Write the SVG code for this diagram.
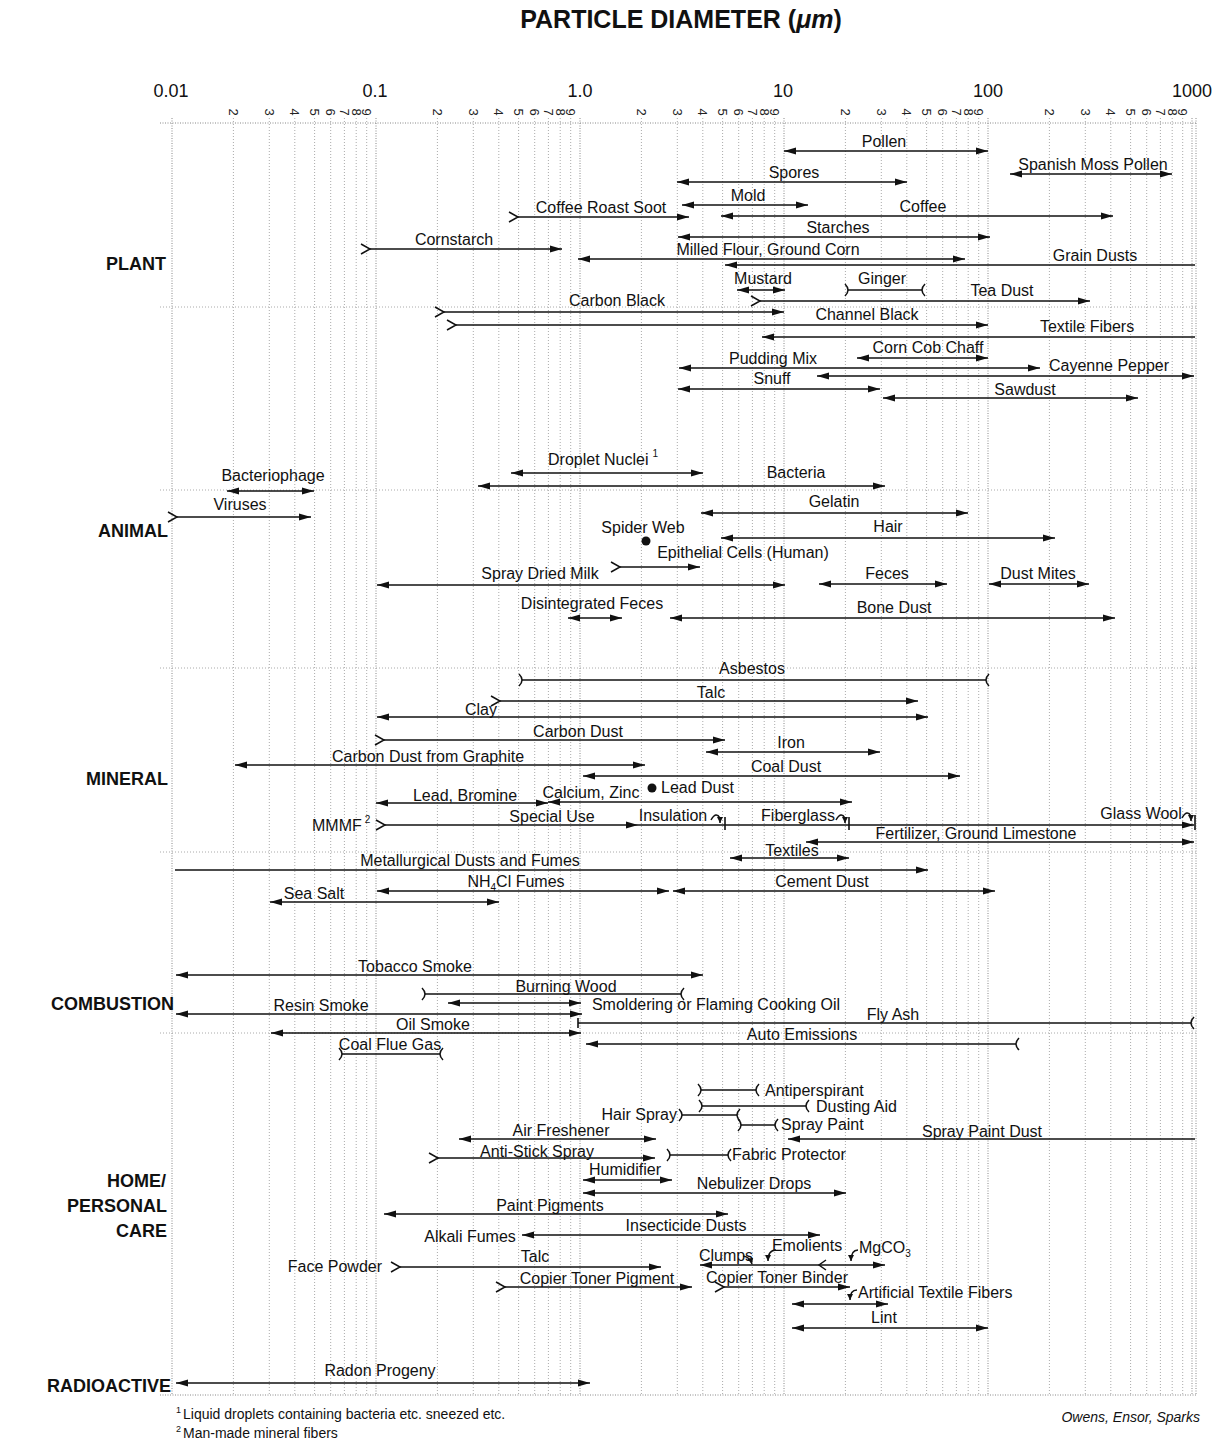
<svg xmlns="http://www.w3.org/2000/svg" xmlns:xlink="http://www.w3.org/1999/xlink" width="1228" height="1441" viewBox="0 0 1228 1441">
<style>
.t{font-family:"Liberation Sans",Arial,sans-serif;font-size:16px;fill:#111}
.c{text-anchor:middle}
.e{text-anchor:end}
.cat{font-family:"Liberation Sans",Arial,sans-serif;font-size:18px;font-weight:bold;fill:#111;text-anchor:end}
.ax{font-family:"Liberation Sans",Arial,sans-serif;font-size:18px;fill:#111;text-anchor:middle}
.tk{font-family:"Liberation Sans",Arial,sans-serif;font-size:13px;fill:#222;text-anchor:middle;dominant-baseline:central}
.g{stroke:#aaa;stroke-width:1;stroke-dasharray:1 2;fill:none}
.gm{stroke:#888;stroke-width:1;stroke-dasharray:1 1.5;fill:none}
.b{stroke:#111;stroke-width:1.6;fill:none}
.aa{marker-start:url(#ah);marker-end:url(#ah)}
.ca{marker-start:url(#chev);marker-end:url(#ah)}
.an{marker-start:url(#ah)}
.na{marker-end:url(#ah)}
.bb{marker-start:url(#brk);marker-end:url(#brk)}
.ab{marker-start:url(#ah);marker-end:url(#brk)}
.nb{marker-end:url(#brk)}
.mk{stroke:#111;stroke-width:1.5;fill:none}
.cu{stroke:#111;stroke-width:1.5;fill:none;marker-end:url(#sa)}
</style>
<defs>
<marker id="ah" viewBox="0 0 12 8" refX="12" refY="4" markerWidth="12" markerHeight="8" markerUnits="userSpaceOnUse" orient="auto-start-reverse"><path d="M0,0.5 L12,4 L0,7.5 z" fill="#111"/></marker>
<marker id="chev" viewBox="-11 -7 13 14" refX="0" refY="0" markerWidth="13" markerHeight="14" markerUnits="userSpaceOnUse" orient="auto"><path class="mk" d="M-9,-5 L0,0 L-9,5"/></marker>
<marker id="brk" viewBox="-6 -8 12 16" refX="0" refY="0" markerWidth="12" markerHeight="16" markerUnits="userSpaceOnUse" orient="auto-start-reverse"><path class="mk" d="M3,-6 Q-3,0 3,6"/></marker>
<marker id="sa" viewBox="0 0 6 6" refX="6" refY="3" markerWidth="6" markerHeight="6" markerUnits="userSpaceOnUse" orient="auto"><path d="M0,0 L6,3 L0,6 z" fill="#111"/></marker>
<path id="tri" d="M-12,-3.5 L0,0 L-12,3.5 z" fill="#111"/>
<g id="decade">
<line class="gm" x1="0" y1="118" x2="0" y2="1395"/>
<line class="g" x1="61.4" y1="118" x2="61.4" y2="1395"/>
<line class="g" x1="97.3" y1="118" x2="97.3" y2="1395"/>
<line class="g" x1="122.8" y1="118" x2="122.8" y2="1395"/>
<line class="g" x1="142.6" y1="118" x2="142.6" y2="1395"/>
<line class="g" x1="158.7" y1="118" x2="158.7" y2="1395"/>
<line class="g" x1="172.4" y1="118" x2="172.4" y2="1395"/>
<line class="g" x1="184.2" y1="118" x2="184.2" y2="1395"/>
<line class="g" x1="194.7" y1="118" x2="194.7" y2="1395"/>
<text class="tk" transform="translate(61.4,112) rotate(90)">2</text>
<text class="tk" transform="translate(97.3,112) rotate(90)">3</text>
<text class="tk" transform="translate(122.8,112) rotate(90)">4</text>
<text class="tk" transform="translate(142.6,112) rotate(90)">5</text>
<text class="tk" transform="translate(158.7,112) rotate(90)">6</text>
<text class="tk" transform="translate(172.4,112) rotate(90)">7</text>
<text class="tk" transform="translate(184.2,112) rotate(90)">8</text>
<text class="tk" transform="translate(194.7,112) rotate(90)">9</text>
</g>
</defs>
<rect width="1228" height="1441" fill="#fff"/>

<g id="title">
<text x="681" y="28" font-family="Liberation Sans,Arial,sans-serif" font-size="25" font-weight="bold" text-anchor="middle" fill="#111">PARTICLE DIAMETER (<tspan font-style="italic">μm</tspan>)</text>
</g>

<g id="axis">
<text class="ax" x="171" y="97">0.01</text>
<text class="ax" x="375" y="97">0.1</text>
<text class="ax" x="580" y="97">1.0</text>
<text class="ax" x="783" y="97">10</text>
<text class="ax" x="988" y="97">100</text>
<text class="ax" x="1192" y="97">1000</text>
</g>

<g id="grid">
<use xlink:href="#decade" x="172"/>
<use xlink:href="#decade" x="376"/>
<use xlink:href="#decade" x="580"/>
<use xlink:href="#decade" x="784"/>
<use xlink:href="#decade" x="988"/>
<line class="gm" x1="1192" y1="118" x2="1192" y2="1395"/>
<line class="gm" x1="1196" y1="118" x2="1196" y2="1395"/>
<line class="gm" x1="160" y1="123" x2="1196" y2="123"/>
<line class="g" x1="160" y1="307" x2="1196" y2="307"/>
<line class="g" x1="160" y1="490" x2="1196" y2="490"/>
<line class="g" x1="160" y1="668" x2="1196" y2="668"/>
<line class="g" x1="160" y1="852" x2="1196" y2="852"/>
<line class="g" x1="160" y1="1033" x2="1196" y2="1033"/>
<line class="gm" x1="160" y1="1395" x2="1196" y2="1395"/>
</g>

<g id="categories">
<text class="cat" x="166" y="270">PLANT</text>
<text class="cat" x="168" y="537">ANIMAL</text>
<text class="cat" x="168" y="785">MINERAL</text>
<text class="cat" x="174" y="1010">COMBUSTION</text>
<text class="cat" x="166" y="1187">HOME/</text>
<text class="cat" x="167" y="1212">PERSONAL</text>
<text class="cat" x="167" y="1237">CARE</text>
<text class="cat" x="171" y="1392">RADIOACTIVE</text>
</g>

<g id="labels">
<!-- PLANT -->
<g id="pollen"><text class="t c" x="884" y="147">Pollen</text></g>
<g id="spanish-moss"><text class="t c" x="1093" y="170">Spanish Moss Pollen</text></g>
<g id="spores"><text class="t c" x="794" y="178">Spores</text></g>
<g id="mold"><text class="t c" x="748" y="201">Mold</text></g>
<g id="coffee-roast-soot"><text class="t c" x="601" y="213">Coffee Roast Soot</text></g>
<g id="coffee"><text class="t c" x="923" y="212">Coffee</text></g>
<g id="starches"><text class="t c" x="838" y="233">Starches</text></g>
<g id="cornstarch"><text class="t c" x="454" y="245">Cornstarch</text></g>
<g id="milled-flour"><text class="t c" x="768" y="255">Milled Flour, Ground Corn</text></g>
<g id="grain-dusts"><text class="t c" x="1095" y="261">Grain Dusts</text></g>
<g id="mustard"><text class="t c" x="763" y="284">Mustard</text></g>
<g id="ginger"><text class="t c" x="882" y="284">Ginger</text></g>
<g id="tea-dust"><text class="t c" x="1002" y="296">Tea Dust</text></g>
<g id="carbon-black"><text class="t c" x="617" y="306">Carbon Black</text></g>
<g id="channel-black"><text class="t c" x="867" y="320">Channel Black</text></g>
<g id="textile-fibers"><text class="t c" x="1087" y="332">Textile Fibers</text></g>
<g id="corn-cob"><text class="t c" x="928" y="353">Corn Cob Chaff</text></g>
<g id="pudding"><text class="t c" x="773" y="364">Pudding Mix</text></g>
<g id="cayenne"><text class="t c" x="1109" y="371">Cayenne Pepper</text></g>
<g id="snuff"><text class="t c" x="772" y="384">Snuff</text></g>
<g id="sawdust"><text class="t c" x="1025" y="395">Sawdust</text></g>
<!-- ANIMAL -->
<g id="droplet"><text class="t" x="548" y="465">Droplet Nuclei<tspan dx="4" dy="-8" font-size="10">1</tspan></text></g>
<g id="bacteriophage"><text class="t c" x="273" y="481">Bacteriophage</text></g>
<g id="bacteria"><text class="t c" x="796" y="478">Bacteria</text></g>
<g id="viruses"><text class="t c" x="240" y="510">Viruses</text></g>
<g id="gelatin"><text class="t c" x="834" y="507">Gelatin</text></g>
<g id="spider-web"><text class="t c" x="643" y="533">Spider Web</text><circle cx="646" cy="541" r="4.5" fill="#111"/></g>
<g id="hair"><text class="t c" x="888" y="532">Hair</text></g>
<g id="epithelial"><text class="t c" x="743" y="558">Epithelial Cells (Human)</text></g>
<g id="spray-dried-milk"><text class="t c" x="540" y="579">Spray Dried Milk</text></g>
<g id="feces"><text class="t c" x="887" y="579">Feces</text></g>
<g id="dust-mites"><text class="t c" x="1038" y="579">Dust Mites</text></g>
<g id="dis-feces"><text class="t c" x="592" y="609">Disintegrated Feces</text></g>
<g id="bone-dust"><text class="t c" x="894" y="613">Bone Dust</text></g>
<!-- MINERAL -->
<g id="asbestos"><text class="t c" x="752" y="674">Asbestos</text></g>
<g id="talc-m"><text class="t c" x="711" y="698">Talc</text></g>
<g id="clay"><text class="t c" x="481" y="715">Clay</text></g>
<g id="carbon-dust"><text class="t c" x="578" y="737">Carbon Dust</text></g>
<g id="iron"><text class="t c" x="791" y="748">Iron</text></g>
<g id="graphite"><text class="t c" x="428" y="762">Carbon Dust from Graphite</text></g>
<g id="coal-dust"><text class="t c" x="786" y="772">Coal Dust</text></g>
<g id="lead-dust"><circle cx="652" cy="788" r="4.5" fill="#111"/><text class="t" x="661" y="793">Lead Dust</text></g>
<g id="lead-bromine"><text class="t c" x="465" y="801">Lead, Bromine</text></g>
<g id="calcium-zinc"><text class="t c" x="591" y="798">Calcium, Zinc</text></g>
<g id="mmmf"><text class="t" x="312" y="831">MMMF<tspan dx="3" dy="-8" font-size="10">2</tspan></text></g>
<g id="special-use"><text class="t c" x="552" y="822">Special Use</text></g>
<g id="insulation"><text class="t c" x="673" y="821">Insulation</text></g>
<g id="fiberglass"><text class="t c" x="798" y="821">Fiberglass</text></g>
<g id="glass-wool"><text class="t c" x="1141" y="819">Glass Wool</text></g>
<g id="fertilizer"><text class="t c" x="976" y="839">Fertilizer, Ground Limestone</text></g>
<g id="textiles"><text class="t c" x="792" y="856">Textiles</text></g>
<g id="metallurgical"><text class="t c" x="470" y="866">Metallurgical Dusts and Fumes</text></g>
<g id="nh4cl"><text class="t c" x="516" y="887">NH<tspan font-size="10" dy="4">4</tspan><tspan dy="-4">Cl Fumes</tspan></text></g>
<g id="cement"><text class="t c" x="822" y="887">Cement Dust</text></g>
<g id="sea-salt"><text class="t c" x="314" y="899">Sea Salt</text></g>
<!-- COMBUSTION -->
<g id="tobacco"><text class="t c" x="415" y="972">Tobacco Smoke</text></g>
<g id="burning-wood"><text class="t c" x="566" y="992">Burning Wood</text></g>
<g id="cooking-oil"><text class="t c" x="716" y="1010">Smoldering or Flaming Cooking Oil</text></g>
<g id="resin"><text class="t c" x="321" y="1011">Resin Smoke</text></g>
<g id="oil-smoke"><text class="t c" x="433" y="1030">Oil Smoke</text></g>
<g id="fly-ash"><text class="t c" x="893" y="1020">Fly Ash</text></g>
<g id="auto"><text class="t c" x="802" y="1040">Auto Emissions</text></g>
<g id="coal-flue"><text class="t c" x="390" y="1050">Coal Flue Gas</text></g>
<!-- HOME -->
<g id="antiperspirant"><text class="t" x="765" y="1096">Antiperspirant</text></g>
<g id="dusting-aid"><text class="t" x="816" y="1112">Dusting Aid</text></g>
<g id="hair-spray"><text class="t e" x="677" y="1120">Hair Spray</text></g>
<g id="spray-paint"><text class="t" x="781" y="1130">Spray Paint</text></g>
<g id="air-freshener"><text class="t c" x="561" y="1136">Air Freshener</text></g>
<g id="spray-paint-dust"><text class="t c" x="982" y="1137">Spray Paint Dust</text></g>
<g id="anti-stick"><text class="t c" x="537" y="1157">Anti-Stick Spray</text></g>
<g id="fabric"><text class="t" x="732" y="1160">Fabric Protector</text></g>
<g id="humidifier"><text class="t c" x="625" y="1175">Humidifier</text></g>
<g id="nebulizer"><text class="t c" x="754" y="1189">Nebulizer Drops</text></g>
<g id="paint-pigments"><text class="t c" x="550" y="1211">Paint Pigments</text></g>
<g id="insecticide"><text class="t c" x="686" y="1231">Insecticide Dusts</text></g>
<g id="alkali"><text class="t c" x="470" y="1242">Alkali Fumes</text></g>
<g id="talc-h"><text class="t c" x="535" y="1262">Talc</text></g>
<g id="face-powder"><text class="t e" x="382" y="1272">Face Powder</text></g>
<g id="clumps"><text class="t c" x="726" y="1261">Clumps</text></g>
<g id="emolients"><text class="t c" x="807" y="1251">Emolients</text></g>
<g id="mgco3"><text class="t" x="859" y="1253">MgCO<tspan font-size="10" dy="4">3</tspan></text></g>
<g id="toner-pigment"><text class="t c" x="597" y="1284">Copier Toner Pigment</text></g>
<g id="toner-binder"><text class="t c" x="777" y="1283">Copier Toner Binder</text></g>
<g id="artificial"><text class="t" x="858" y="1298">Artificial Textile Fibers</text></g>
<g id="lint"><text class="t c" x="884" y="1323">Lint</text></g>
<!-- RADIOACTIVE -->
<g id="radon"><text class="t c" x="380" y="1376">Radon Progeny</text></g>
</g>

<g id="connectors">
<line class="b aa" x1="784" y1="151" x2="988" y2="151"/>
<line class="b aa" x1="1010" y1="174" x2="1172" y2="174"/>
<line class="b aa" x1="677" y1="182" x2="907" y2="182"/>
<line class="b aa" x1="682" y1="205" x2="808" y2="205"/>
<line class="b ca" x1="518" y1="217" x2="689" y2="217"/>
<line class="b aa" x1="721" y1="216" x2="1113" y2="216"/>
<line class="b aa" x1="678" y1="237" x2="990" y2="237"/>
<line class="b ca" x1="370" y1="249" x2="562" y2="249"/>
<line class="b aa" x1="578" y1="259" x2="965" y2="259"/>
<line class="b an" x1="725" y1="265" x2="1195" y2="265"/>
<line class="b aa" x1="737" y1="290" x2="785" y2="290"/>
<line class="b bb" x1="848" y1="290" x2="922" y2="290"/>
<line class="b ca" x1="760" y1="301" x2="1090" y2="301"/>
<line class="b ca" x1="444" y1="312" x2="784" y2="312"/>
<line class="b ca" x1="456" y1="325" x2="988" y2="325"/>
<line class="b an" x1="762" y1="337" x2="1195" y2="337"/>
<line class="b aa" x1="857" y1="358" x2="988" y2="358"/>
<line class="b aa" x1="679" y1="368" x2="1040" y2="368"/>
<line class="b aa" x1="817" y1="376" x2="1194" y2="376"/>
<line class="b aa" x1="678" y1="389" x2="880" y2="389"/>
<line class="b aa" x1="883" y1="398" x2="1138" y2="398"/>

<line class="b aa" x1="511" y1="473" x2="703" y2="473"/>
<line class="b aa" x1="227" y1="491" x2="314" y2="491"/>
<line class="b aa" x1="478" y1="486" x2="885" y2="486"/>
<line class="b ca" x1="177" y1="517" x2="311" y2="517"/>
<line class="b aa" x1="701" y1="513" x2="968" y2="513"/>
<line class="b aa" x1="721" y1="538" x2="1055" y2="538"/>
<line class="b ca" x1="620" y1="567" x2="700" y2="567"/>
<line class="b aa" x1="377" y1="585" x2="785" y2="585"/>
<line class="b aa" x1="819" y1="584" x2="947" y2="584"/>
<line class="b aa" x1="989" y1="584" x2="1089" y2="584"/>
<line class="b aa" x1="568" y1="618" x2="622" y2="618"/>
<line class="b aa" x1="670" y1="618" x2="1115" y2="618"/>

<line class="b bb" x1="522" y1="680" x2="986" y2="680"/>
<line class="b ca" x1="500" y1="701" x2="918" y2="701"/>
<line class="b aa" x1="377" y1="717" x2="928" y2="717"/>
<line class="b ca" x1="384" y1="740" x2="725" y2="740"/>
<line class="b aa" x1="706" y1="752" x2="880" y2="752"/>
<line class="b aa" x1="235" y1="765" x2="645" y2="765"/>
<line class="b aa" x1="583" y1="776" x2="960" y2="776"/>
<line class="b aa" x1="376" y1="803" x2="548" y2="803"/>
<line class="b aa" x1="548" y1="802" x2="852" y2="802"/>
<line class="b ca" x1="385" y1="825" x2="1194" y2="825"/>
<use xlink:href="#tri" x="638" y="825"/>
<path class="cu" d="M711,820 Q716,811 720,818 L720,823"/>
<path class="b" d="M725,817 V830"/>
<path class="cu" d="M836,820 Q841,811 845,818 L845,823"/>
<path class="b" d="M849,817 V830"/>
<path class="cu" d="M1182,818 Q1187,809 1191,816 L1191,821"/>
<path class="b" d="M1195,815 V830"/>
<line class="b aa" x1="806" y1="842" x2="1194" y2="842"/>
<line class="b aa" x1="730" y1="858" x2="849" y2="858"/>
<line class="b na" x1="175" y1="870" x2="928" y2="870"/>
<line class="b aa" x1="377" y1="891" x2="669" y2="891"/>
<line class="b aa" x1="673" y1="891" x2="995" y2="891"/>
<line class="b aa" x1="270" y1="902" x2="499" y2="902"/>

<line class="b aa" x1="176" y1="975" x2="703" y2="975"/>
<line class="b bb" x1="425" y1="994" x2="681" y2="994"/>
<line class="b aa" x1="448" y1="1003" x2="581" y2="1003"/>
<line class="b aa" x1="176" y1="1014" x2="582" y2="1014"/>
<line class="b aa" x1="271" y1="1033" x2="581" y2="1033"/>
<line class="b nb" x1="578" y1="1023" x2="1191" y2="1023"/>
<path class="b" d="M578,1018 V1028"/>
<line class="b ab" x1="586" y1="1044" x2="1016" y2="1044"/>
<line class="b bb" x1="342" y1="1054" x2="440" y2="1054"/>

<line class="b bb" x1="701" y1="1090" x2="756" y2="1090"/>
<line class="b bb" x1="702" y1="1106" x2="806" y2="1106"/>
<line class="b bb" x1="682" y1="1115" x2="737" y2="1115"/>
<line class="b bb" x1="741" y1="1125" x2="775" y2="1125"/>
<line class="b aa" x1="459" y1="1139" x2="656" y2="1139"/>
<line class="b an" x1="788" y1="1139" x2="1195" y2="1139"/>
<line class="b ca" x1="438" y1="1158" x2="655" y2="1158"/>
<line class="b bb" x1="670" y1="1155" x2="728" y2="1155"/>
<line class="b aa" x1="583" y1="1180" x2="672" y2="1180"/>
<line class="b aa" x1="583" y1="1193" x2="846" y2="1193"/>
<line class="b aa" x1="384" y1="1214" x2="728" y2="1214"/>
<line class="b aa" x1="522" y1="1235" x2="820" y2="1235"/>
<line class="b ca" x1="400" y1="1267" x2="661" y2="1267"/>
<line class="b aa" x1="700" y1="1265" x2="885" y2="1265"/>
<path class="cu" d="M743,1256 Q750,1257 752,1264"/>
<path class="cu" d="M776,1250 Q768,1250 768,1261"/>
<path class="mk" d="M826,1260 L819,1265 L826,1270"/>
<path class="cu" d="M858,1250 Q851,1250 851,1261"/>
<line class="b ca" x1="505" y1="1287" x2="692" y2="1287"/>
<line class="b ca" x1="724" y1="1287" x2="850" y2="1287"/>
<line class="b aa" x1="792" y1="1304" x2="888" y2="1304"/>
<path class="cu" d="M857,1290 Q850,1290 850,1300"/>
<line class="b aa" x1="792" y1="1328" x2="988" y2="1328"/>

<line class="b aa" x1="176" y1="1383" x2="590" y2="1383"/>
</g>

<g id="footnotes">
<text class="t" x="176" y="1419" style="font-size:14px"><tspan style="font-size:9px" dy="-6">1</tspan><tspan dy="6" dx="2">Liquid droplets containing bacteria etc. sneezed etc.</tspan></text>
<text class="t" x="176" y="1438" style="font-size:14px"><tspan style="font-size:9px" dy="-6">2</tspan><tspan dy="6" dx="2">Man-made mineral fibers</tspan></text>
<text class="t e" x="1200" y="1422" style="font-size:14px;font-style:italic">Owens, Ensor, Sparks</text>
</g>
</svg>
